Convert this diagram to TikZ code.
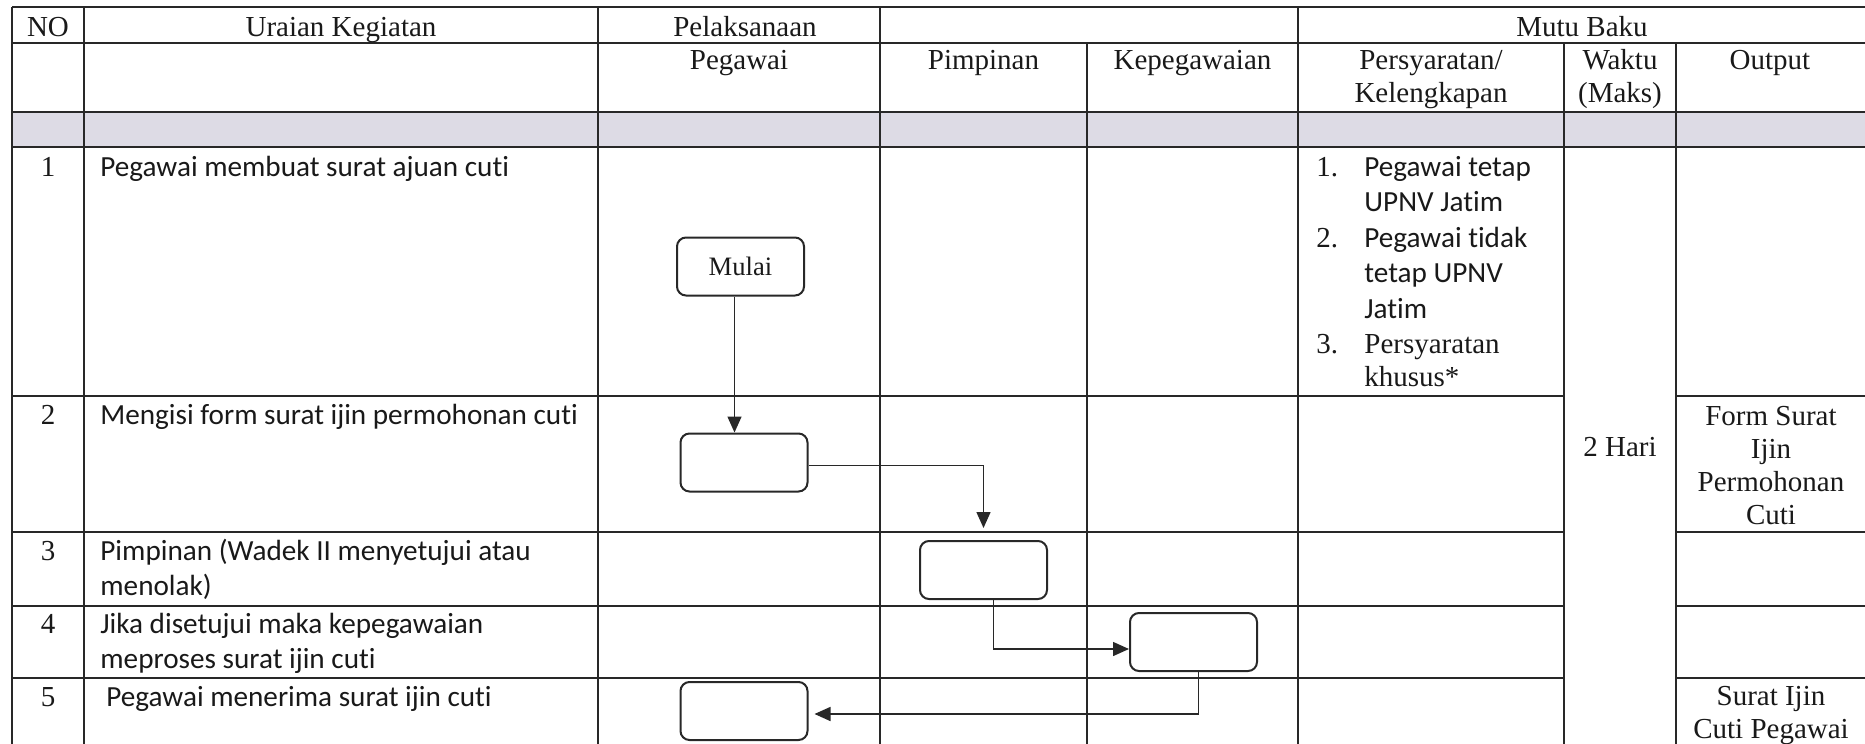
\documentclass[tikz,border=0pt]{standalone}
\usepackage{fontspec}
\setmainfont{Liberation Serif}
\newfontfamily\calfont[Ligatures=NoCommon]{Carlito}
\usetikzlibrary{arrows.meta}
\definecolor{linec}{RGB}{40,40,40}
\definecolor{bandc}{RGB}{221,219,229}
\definecolor{txtc}{RGB}{25,25,25}
\begin{document}
\begin{tikzpicture}[x=0.5pt,y=-0.5pt,
  tm/.style={font=\fontsize{14.5pt}{16.5pt}\selectfont, text=txtc, inner sep=0pt},
  cal/.style={font=\calfont\fontsize{14.6pt}{17.75pt}\selectfont, text=txtc, inner sep=0pt},
  gridline/.style={draw=linec, line width=1pt},
  box/.style={draw=linec, line width=1pt, rounded corners=4.5pt, minimum width=63.5pt, minimum height=29pt, inner sep=0pt, font=\fontsize{13.3pt}{15pt}\selectfont, text=txtc},
  arr/.style={draw=linec, line width=0.75pt, -{Triangle[length=8pt,width=7pt]}}]
\useasboundingbox (0,0) rectangle (1865,744);
\fill[bandc] (12,112) rectangle (1865,147);
% horizontal lines
\foreach \y in {7,43,112,147} \draw[gridline] (12,\y) -- (1865,\y);
\foreach \y in {396,532,606,678} {\draw[gridline] (12,\y) -- (1564,\y); \draw[gridline] (1676,\y) -- (1865,\y);}
% vertical lines
\foreach \x in {12,84,598,880,1298} \draw[gridline] (\x,7) -- (\x,744);
\foreach \x in {1087,1564,1676} \draw[gridline] (\x,43) -- (\x,744);
% header
\node[tm, anchor=base] (hno) at (48,36) {NO};
\node[tm, anchor=base] (hur) at (341,36) {Uraian Kegiatan};
\node[tm, anchor=base] (hpel) at (745,36) {Pelaksanaan};
\node[tm, anchor=base] (hmutu) at (1582,36) {Mutu Baku};
\node[tm, anchor=base] (hpeg) at (739,69) {Pegawai};
\node[tm, anchor=base] (hpim) at (983.5,69) {Pimpinan};
\node[tm, anchor=base] (hkep) at (1192.5,69) {Kepegawaian};
\node[tm, anchor=base] (hper) at (1431,69) {Persyaratan/};
\node[tm, anchor=base] (hkel) at (1431,102) {Kelengkapan};
\node[tm, anchor=base] (hwak) at (1620,69) {Waktu};
\node[tm, anchor=base] (hmak) at (1620,102) {(Maks)};
\node[tm, anchor=base] (hout) at (1770,69) {Output};
% numbers
\node[tm, anchor=base] (n1) at (48,176) {1};
\node[tm, anchor=base] (n2) at (48,424) {2};
\node[tm, anchor=base] (n3) at (48,560) {3};
\node[tm, anchor=base] (n4) at (48,633) {4};
\node[tm, anchor=base] (n5) at (48,706) {5};
% uraian (base anchor of a multi-line node = last line)
\node[cal, anchor=base west] (u1) at (100,176) {Pegawai membuat surat ajuan cuti};
\node[cal, anchor=base west] (u2) at (100,424) {Mengisi form surat ijin permohonan cuti};
\node[cal, anchor=base west, align=left] (u3) at (100,595.5) {Pimpinan (Wadek II menyetujui atau\\menolak)};
\node[cal, anchor=base west, align=left] (u4) at (100,668.5) {Jika disetujui maka kepegawaian\\meproses surat ijin cuti};
\node[cal, anchor=base west] (u5) at (106,706) {Pegawai menerima surat ijin cuti};
% persyaratan list
\node[tm, anchor=base west] (l1) at (1316,176) {1.};
\node[cal, anchor=base west, align=left] (p1) at (1364,211.5) {Pegawai tetap\\UPNV Jatim};
\node[tm, anchor=base west] (l2) at (1316,247) {2.};
\node[cal, anchor=base west, align=left] (p2) at (1364,318) {Pegawai tidak\\tetap UPNV\\Jatim};
\node[tm, anchor=base west] (l3) at (1316,353) {3.};
\node[tm, anchor=base west, align=left] (p3) at (1364,386) {Persyaratan\\khusus*};
% waktu and output
\node[tm] (waktu) at (1620,447) {2 Hari};
\node[tm, align=center] (o2) at (1771,466) {Form Surat\\Ijin\\Permohonan\\Cuti};
\node[tm, align=center] (o5) at (1771,716) {Surat Ijin\\Cuti Pegawai};
% flow boxes
\node[box] (mulai) at (740.5,266.5) {Mulai};
\node[box] (b2) at (744,462.5) {};
\node[box] (b3) at (983.5,570) {};
\node[box] (b4) at (1193.5,642) {};
\node[box] (b5) at (744,711) {};
% connectors
\draw[arr] ([xshift=-3pt]mulai.south) -- ([xshift=-3pt]mulai.south |- b2.north);
\draw[arr] ([yshift=-1.5pt]b2.east) -| ([yshift=6pt]b3.north);
\draw[arr] ([xshift=5pt]b3.south) |- ([yshift=-3.5pt]b4.west);
\draw[arr] ([xshift=2.5pt]b4.south) |- ([xshift=3pt,yshift=-1.5pt]b5.east);
\end{tikzpicture}
\end{document}
